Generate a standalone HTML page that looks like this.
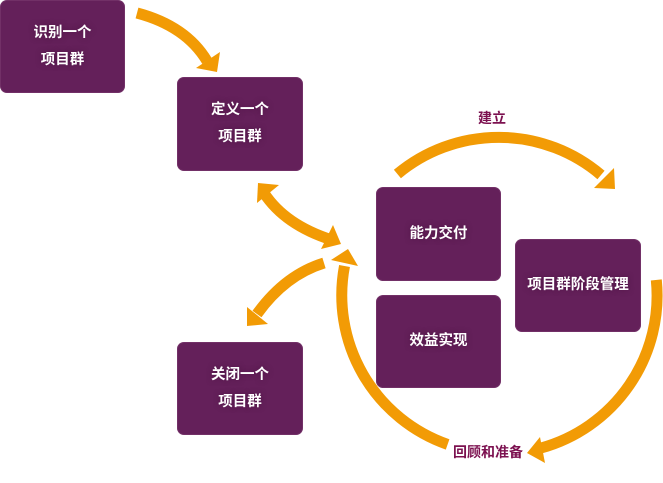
<!DOCTYPE html>
<html>
<head>
<meta charset="utf-8">
<style>
  html, body { margin: 0; padding: 0; background: #ffffff; }
  body { width: 663px; height: 483px; position: relative; overflow: hidden;
         font-family: "Liberation Sans", "Noto Sans CJK SC", sans-serif; }
  .box { position: absolute; background: #64205a; border-radius: 7px;
         color: #ffffff; font-weight: bold; font-size: 14.5px;
         display: flex; flex-direction: column; align-items: center; justify-content: center;
         line-height: 27px; text-shadow: 0 0 6px rgba(60,10,50,0.5);
         box-shadow: inset 0 0 0 1px rgba(140,80,130,0.35); }
  .lbl { position: absolute; color: #7c1150; font-weight: bold; font-size: 14px;
         line-height: 16px; white-space: nowrap; }
  svg { position: absolute; left: 0; top: 0; }
</style>
</head>
<body>
<svg width="663" height="483" viewBox="0 0 663 483">
  <g fill="none" stroke="#f29b05" stroke-width="11" stroke-linecap="butt">
    <path d="M137,13 Q186,26 207,61"/>
    <path d="M264,193 Q285,225 332,240"/>
    <path d="M324,263 Q285,275 257,314"/>
    <path d="M397.4,174 A158,158 0 0 1 601,175"/>
    <path d="M656.3,279.9 A158,158 0 0 1 541,448"/>
    <path d="M447.6,444.4 A158,158 0 0 1 344.5,266"/>
  </g>
  <g fill="#f29b05">
    <polygon points="196,68 220,52 217,72"/>
    <polygon points="258,183 279,185 257,203"/>
    <polygon points="341,244 333,225 321,249"/>
    <polygon points="247,326 247,307 268,324"/>
    <polygon points="594,188 614,168 615,189"/>
    <polygon points="540,437 545,463 527,453"/>
    <polygon points="331,260 358,266 348,249"/>
  </g>
</svg>

<div class="box" style="left:0px; top:0px; width:125px; height:93px;"><div>识别一个</div><div>项目群</div></div>
<div class="box" style="left:177px; top:77px; width:126px; height:94px;"><div>定义一个</div><div>项目群</div></div>
<div class="box" style="left:376px; top:187px; width:125px; height:94px;"><div>能力交付</div></div>
<div class="box" style="left:376px; top:295px; width:125px; height:93px;"><div>效益实现</div></div>
<div class="box" style="left:515px; top:239px; width:126px; height:93px;"><div>项目群阶段管理</div></div>
<div class="box" style="left:177px; top:342px; width:126px; height:93px;"><div>关闭一个</div><div>项目群</div></div>

<div class="lbl" style="left:478px; top:110px;">建立</div>
<div class="lbl" style="left:453px; top:444px;">回顾和准备</div>
</body>
</html>
